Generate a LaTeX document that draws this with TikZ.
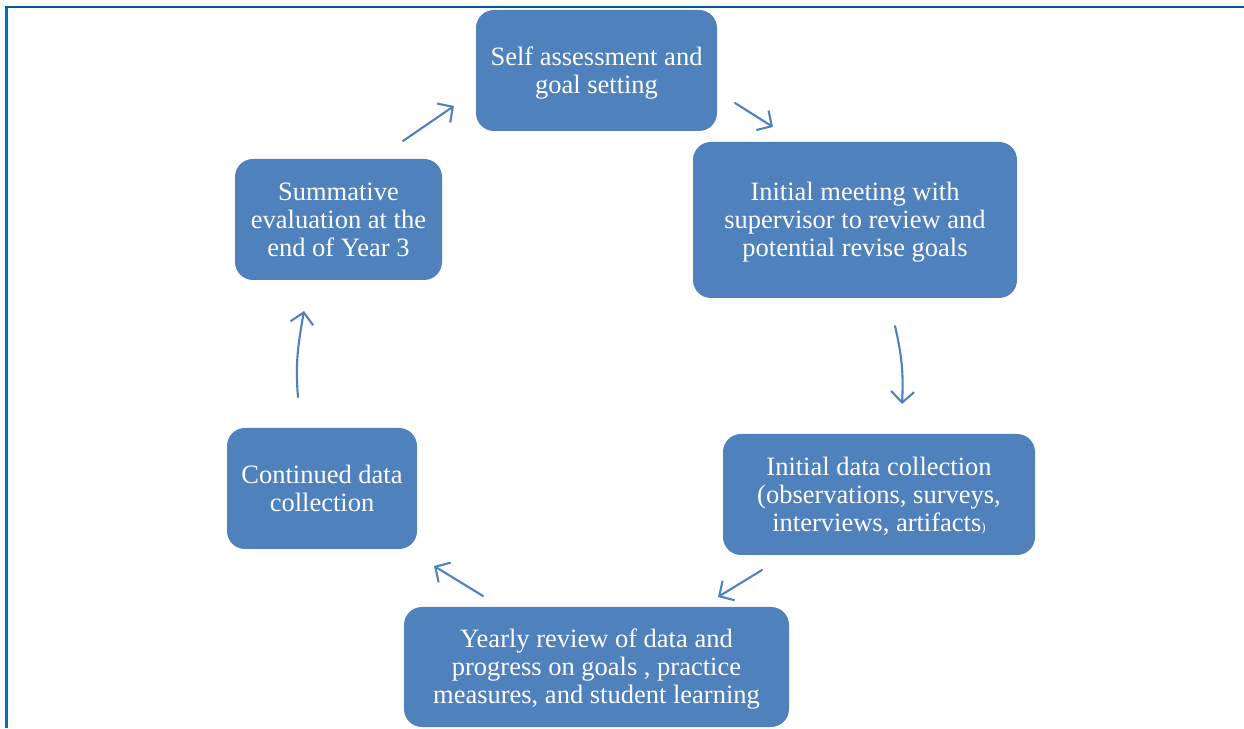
\documentclass[tikz,border=0pt]{standalone}
\usepackage{fontspec}
\setmainfont{Liberation Serif}
\usetikzlibrary{arrows.meta}
\definecolor{boxblue}{HTML}{4F81BD}
\definecolor{framerule}{HTML}{0070C0}
% centred block of lines, lowered a little while keeping its size
\newcommand{\stagetext}[1]{\raisebox{-3pt}[\height][\depth]{\begin{tabular}{@{}c@{}}#1\end{tabular}}}
\begin{document}
\begin{tikzpicture}[x=1pt,y=1pt,
  stage/.style={fill=boxblue, rounded corners=18pt, text=white,
    inner sep=0pt, font=\fontsize{26.5}{28}\selectfont},
  flow/.style={draw=boxblue, line width=2.1pt, line cap=round,
    -{Straight Barb[length=11pt,width=23pt,line width=2.1pt]}}]
\useasboundingbox (0,0) rectangle (1244,728);
\clip (0,0) rectangle (1244,728);
% page frame
\draw[framerule, line width=2.2pt] (6.5,0) -- (6.5,721);
\draw[framerule!80!black, line width=1.6pt] (5.4,721) -- (1244,721);

% stages of the cycle
\node[stage, minimum width=241pt, minimum height=121pt] (self) at (596.5,657.5)
  {\stagetext{Self assessment and\\goal setting}};
\node[stage, minimum width=324pt, minimum height=156pt] (meet) at (855,508)
  {\stagetext{Initial meeting with\\supervisor to review and\\potential revise goals}};
\node[stage, minimum width=312pt, minimum height=121pt] (data) at (879,233.5)
  {\stagetext{Initial data collection\\(observations, surveys,\\interviews, artifacts{\fontsize{13}{13}\selectfont)}}};
\node[stage, minimum width=385pt, minimum height=120pt] (year) at (596.5,61)
  {\stagetext{Yearly review of data and\\progress on goals , practice\\measures, and student learning}};
\node[stage, minimum width=190pt, minimum height=121pt] (cont) at (322,239.5)
  {\stagetext{Continued data\\collection}};
\node[stage, minimum width=207pt, minimum height=121pt] (summ) at (338.5,508.5)
  {\stagetext{Summative\\evaluation at the\\end of Year 3}};

% connector ends
\coordinate (a1s) at (735,625); \coordinate (a1e) at (773,601);
\coordinate (a2s) at (895,402); \coordinate (a2e) at (902,324);
\coordinate (a3s) at (762,158); \coordinate (a3e) at (718,131);
\coordinate (a4s) at (483,132); \coordinate (a4e) at (434,162);
\coordinate (a5s) at (298,331); \coordinate (a5e) at (304,417);
\coordinate (a6s) at (403,587); \coordinate (a6e) at (454,622);

% arrows between the stages
\draw[flow] (a1s) -- (a1e);
\draw[flow] (a2s) to[out=-77,in=87] (a2e);
\draw[flow] (a3s) -- (a3e);
\draw[flow] (a4s) -- (a4e);
\draw[flow] (a5s) to[out=95,in=-100] (a5e);
\draw[flow] (a6s) -- (a6e);
\end{tikzpicture}
\end{document}
